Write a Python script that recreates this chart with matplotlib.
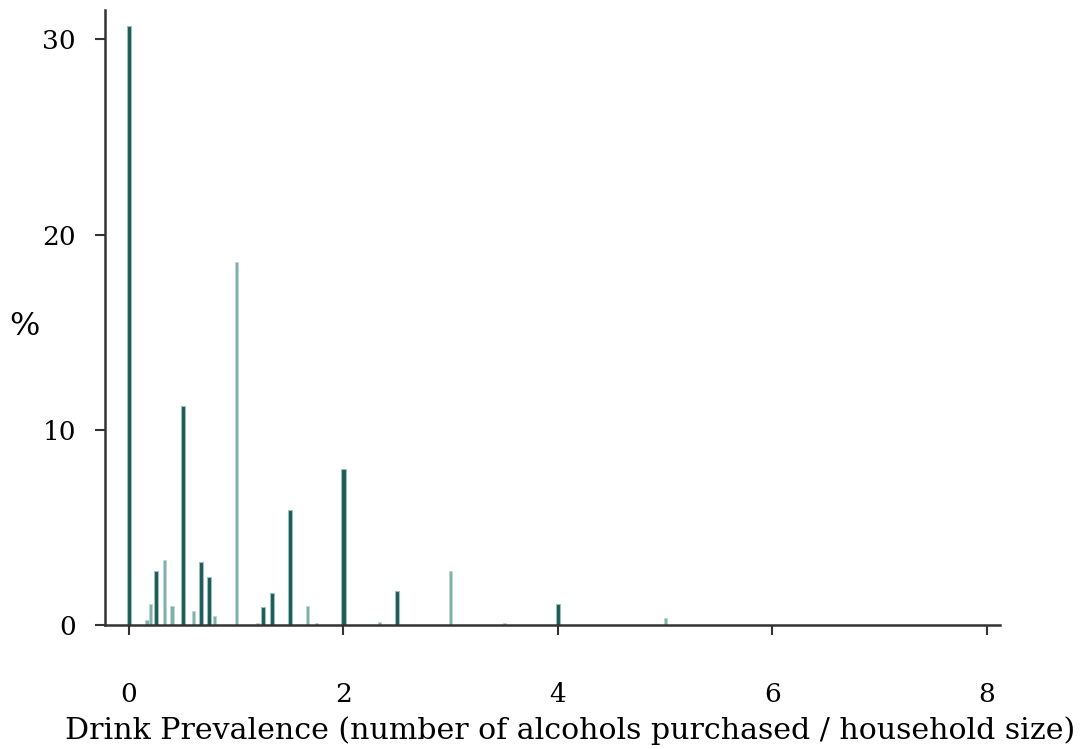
import matplotlib
matplotlib.use("Agg")
import matplotlib.pyplot as plt

# Values (x = drinks per household member, y = % of households)
dark_x = [0.0, 0.25, 0.5, 0.667, 0.75, 1.25, 1.333, 1.5, 2.0, 2.5, 4.0]
dark_y = [30.7, 2.78, 11.2, 3.2, 2.45, 0.94, 1.65, 5.9, 8.0, 1.75, 1.05]

light_x = [0.167, 0.2, 0.333, 0.4, 0.6, 0.8, 1.0, 1.2, 1.667, 1.75, 2.333, 3.0, 3.5, 5.0]
light_y = [0.25, 1.05, 3.35, 0.95, 0.73, 0.45, 18.6, 0.12, 0.97, 0.1, 0.15, 2.78, 0.12, 0.37]

x_ticks = [0, 2, 4, 6, 8]
y_ticks = [0, 10, 20, 30]

fig = plt.figure(figsize=(10.85, 7.49), dpi=100)
ax = fig.add_axes([0.0968, 0.1656, 0.825, 0.821])

ax.bar(light_x, light_y, width=0.03, color="#7fb0aa", edgecolor="#bcd6d3", linewidth=0.6)
ax.bar(dark_x, dark_y, width=0.038, color="#1d5955", edgecolor="#9cc0bc", linewidth=0.8)

ax.set_xlim(-0.224, 8.125)
ax.set_ylim(0, 31.5)

for side in ["top", "right"]:
    ax.spines[side].set_visible(False)
for side in ["left", "bottom"]:
    ax.spines[side].set_color("#333333")
    ax.spines[side].set_linewidth(1.8)

ax.set_xticks(x_ticks)
ax.set_yticks(y_ticks)
ax.tick_params(axis="x", direction="out", length=7, width=1.5, color="#333333", pad=34)
ax.tick_params(axis="y", direction="out", length=7, width=1.5, color="#333333", pad=14)
for lab in ax.get_xticklabels() + ax.get_yticklabels():
    lab.set_family("DejaVu Serif")
    lab.set_fontsize(19)

ax.set_ylabel("%", family="DejaVu Serif", fontsize=23, rotation=0, va="center", ha="center")
ax.yaxis.set_label_coords(-0.09, 0.485)
ax.set_xlabel("Drink Prevalence (number of alcohols purchased / household size)",
              family="DejaVu Serif", fontsize=21.6, va="center")
ax.xaxis.set_label_coords(0.52, -0.171)

fig.savefig("out.png", dpi=100)
